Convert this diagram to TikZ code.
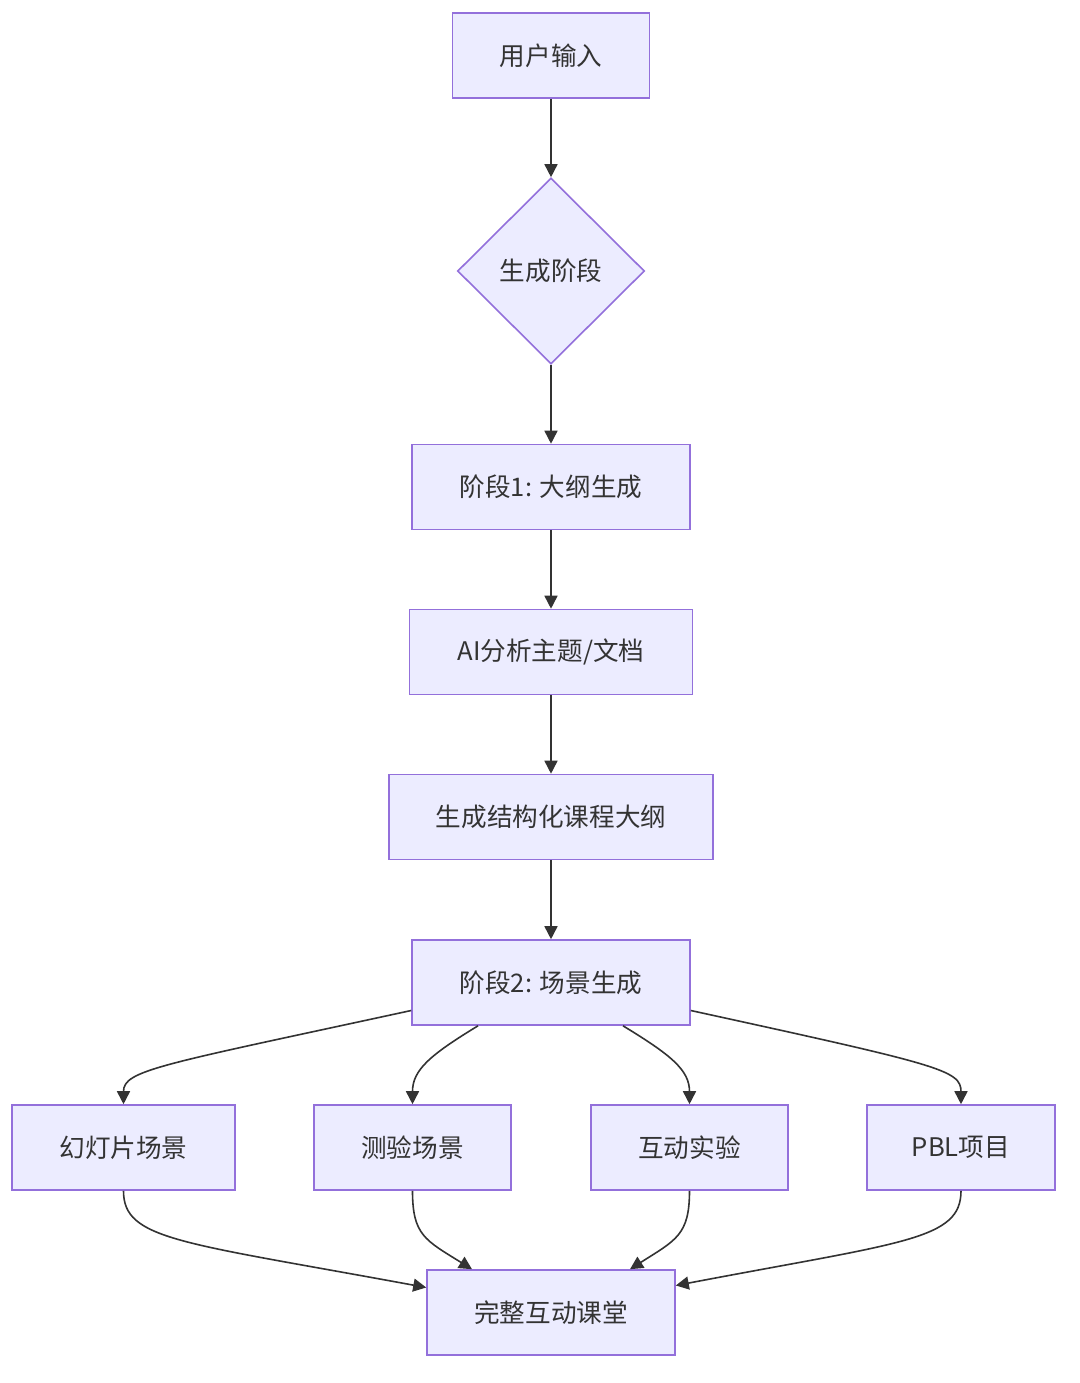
\documentclass[tikz,border=0pt]{standalone}
\usepackage{fontspec}
\setmainfont{Noto Sans CJK SC}
\usetikzlibrary{shapes.geometric,arrows.meta}
\definecolor{boxfill}{HTML}{ECECFF}
\definecolor{boxline}{HTML}{9370DB}
\definecolor{edgecol}{HTML}{333333}
\tikzset{
  box/.style={draw=boxline,fill=boxfill,line width=0.8pt,minimum height=42.5pt,inner sep=0pt,text=edgecol,font=\fontsize{12.8pt}{15pt}\selectfont},
  choice/.style={diamond,draw=boxline,fill=boxfill,line width=0.8pt,minimum width=93.5pt,minimum height=93pt,inner sep=0pt,text=edgecol,font=\fontsize{12.8pt}{15pt}\selectfont},
  link/.style={draw=edgecol,line width=0.8pt,-{Triangle[length=6.5pt,width=6.5pt]}}
}
\begin{document}
\begin{tikzpicture}[x=0.5pt,y=-0.5pt]
    \useasboundingbox (0,0) rectangle (1080,1383);
    % percorso principale
    \node[box,minimum width=98.5pt] (input) at (551,55.5) {用户输入};
    \node[choice] (phase) at (551,271) {生成阶段};
    \node[box,minimum width=139pt] (stageone) at (551,487) {阶段1: 大纲生成};
    \node[box,minimum width=141.5pt] (analyse) at (551,652) {AI分析主题/文档};
    \node[box,minimum width=162pt] (outline) at (551,817) {生成结构化课程大纲};
    \node[box,minimum width=139pt] (stagetwo) at (551,982.5) {阶段2: 场景生成};
    % scene
    \node[box,minimum width=111.5pt] (slides) at (123.5,1147.5) {幻灯片场景};
    \node[box,minimum width=98.5pt] (quiz) at (412.5,1147.5) {测验场景};
    \node[box,minimum width=98.5pt] (lab) at (689.5,1147.5) {互动实验};
    \node[box,minimum width=94pt] (pbl) at (961,1147.5) {PBL项目};
    \node[box,minimum width=124pt] (course) at (551,1312.5) {完整互动课堂};
    % frecce dritte
    \draw[link] (input) -- (phase);
    \draw[link] (phase) -- (stageone);
    \draw[link] (stageone) -- (analyse);
    \draw[link] (analyse) -- (outline);
    \draw[link] (outline) -- (stagetwo);
    % frecce curve verso le scene
    \draw[link] ([yshift=-14pt]stagetwo.west) .. controls (160,1065) and (123.5,1070) .. (slides.north);
    \draw[link] ([xshift=-36.5pt]stagetwo.south) .. controls (430,1055) and (412.5,1070) .. (quiz.north);
    \draw[link] ([xshift=36pt]stagetwo.south) .. controls (671,1055) and (689.5,1070) .. (lab.north);
    \draw[link] ([yshift=-14pt]stagetwo.east) .. controls (940,1065) and (961,1070) .. (pbl.north);
    % frecce curve verso il corso
    \draw[link] (slides.south) .. controls (123.5,1240) and (180,1242) .. ([yshift=12.5pt]course.west);
    \draw[link] (quiz.south) .. controls (412.5,1235) and (425,1240) .. ([xshift=-39.5pt]course.north);
    \draw[link] (lab.south) .. controls (689.5,1235) and (676,1240) .. ([xshift=39.5pt]course.north);
    \draw[link] (pbl.south) .. controls (961,1240) and (904,1242) .. ([yshift=13.5pt]course.east);
  \end{tikzpicture}
\end{document}
